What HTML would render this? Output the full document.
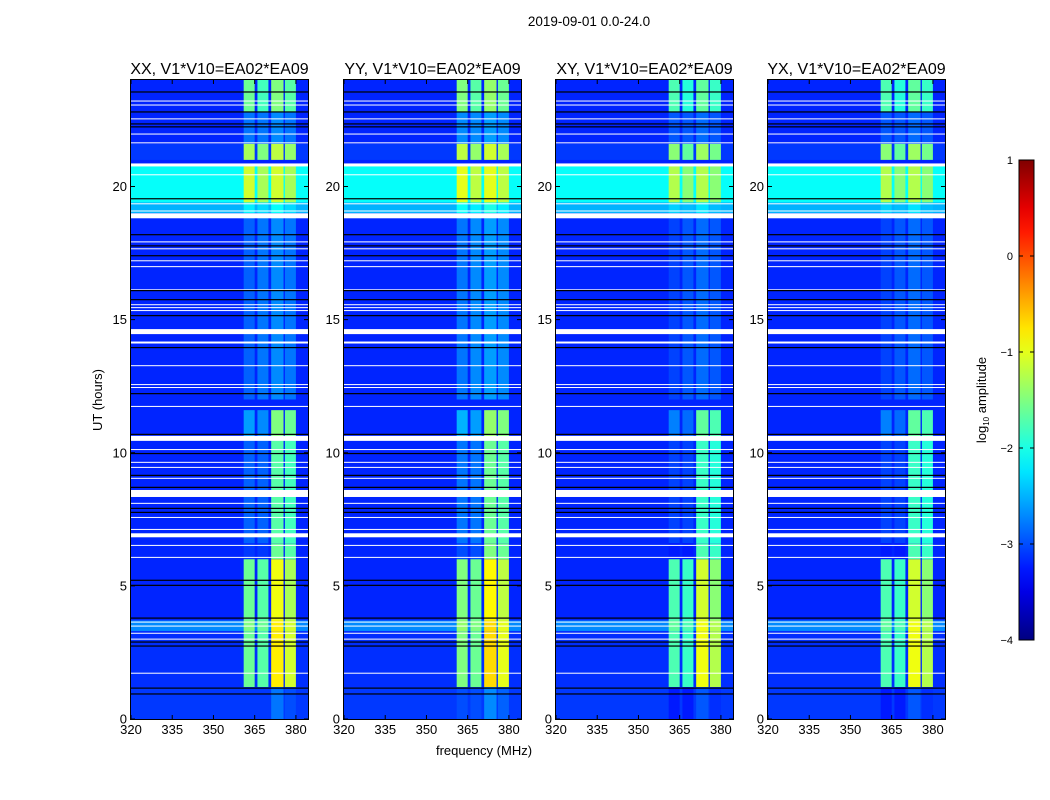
<!DOCTYPE html>
<html><head><meta charset="utf-8"><style>
body{margin:0;background:#fff;width:1050px;height:800px;overflow:hidden;font-family:"Liberation Sans","DejaVu Sans",sans-serif;}
#root{position:relative;width:1050px;height:800px;}
</style></head><body>
<div id="root">
<svg id="svg" width="1050" height="800" style="position:absolute;left:0;top:0"></svg>
</div>
<script>
// ---- data ----
const panelTitles = ["XX, V1*V10=EA02*EA09","YY, V1*V10=EA02*EA09","XY, V1*V10=EA02*EA09","YX, V1*V10=EA02*EA09"];
const panelOffset = [0, 0.1, -0.15, -0.15];
const xTicks = [320,335,350,365,380];
const yTicks = [0,5,10,15,20];
const cbTicks = [1,0,-1,-2,-3,-4];
const bandLo = [361,366,371,376];
const bandHi = [365,370,375.5,380];
// segments: start hour, end hour, background, band1..band4 levels
const segStart = [22.8,21.6,21.0,19.4,19.0,12.0,10.6,6.6,6.0,3.7,3.3,1.2,0];
const segEnd   = [24,22.8,21.6,20.8,19.4,18.9,11.6,10.5,6.6,6.0,3.7,3.3,1.2];
const segBg    = [-3.2,-3.2,-3.1,-2.1,-2.5,-3.2,-3.2,-3.2,-3.2,-3.2,-2.7,-3.15,-3.1];
const segB1    = [-1.6,-2.8,-1.3,-1.1,-2.2,-2.9,-2.6,-2.9,-3.1,-1.6,-1.5,-1.6,-3.1];
const segB2    = [-1.8,-2.8,-1.5,-1.3,-2.3,-2.8,-2.7,-2.9,-3.1,-1.7,-1.6,-1.7,-3.1];
const segB3    = [-1.5,-2.7,-1.2,-1.1,-2.1,-2.7,-1.5,-1.7,-1.6,-0.95,-0.8,-0.8,-2.8];
const segB4    = [-1.7,-2.8,-1.4,-1.3,-2.3,-2.8,-1.6,-1.8,-1.7,-1.3,-1.1,-1.1,-3.0];
const whiteRows = [23.21,23.06,22.54,21.97,21.64,20.81,20.44,19.35,19.08,18.9,17.92,17.66,17.21,16.99,16.12,15.56,15.45,15.34,14.55,14.14,13.27,12.56,12.45,11.74,10.54,10.12,9.64,9.45,9.04,8.47,8.1,7.57,7.12,6.9,6.52,6.07,3.64,3.49,3.22,3.0,1.72];
const whiteWidth = [1,1,1,1,1,3,1,1,1,5,1,1,1,1,1,1,1,1,5,2,1,1,1,1,5,1,1,1,1,7,1,1,1,4,1,1,1,1,1,1,1];
const blackRows = [23.55,22.8,22.35,22.24,19.54,18.19,17.77,17.4,16.09,15.75,15.15,13.95,12.22,10.69,9.97,9.15,8.7,7.91,7.76,5.21,5.02,3.79,2.89,2.74,1.16,0.94];

const panelLeft=[131,344,556,768], pw=177, plotTop=80, plotBottom=719;
const fMin=320, fMax=384.4, hMax=24;
const NS='http://www.w3.org/2000/svg';
const svgRoot=document.getElementById('svg');
function el(tag,attrs,parent){const e=document.createElementNS(NS,tag);for(const k in attrs)e.setAttribute(k,attrs[k]);(parent||svgRoot).appendChild(e);return e;}
function xScale(p,f){return panelLeft[p]+(f-fMin)/(fMax-fMin)*pw;}
function yScale(h){return plotBottom-(h/hMax)*(plotBottom-plotTop);}
function jet(v){let t=(v+4)/5;t=Math.max(0,Math.min(1,t));
 const r=Math.max(0,Math.min(1,Math.min(4*t-1.5,-4*t+4.5)));
 const g=Math.max(0,Math.min(1,Math.min(4*t-0.5,-4*t+3.5)));
 const b=Math.max(0,Math.min(1,Math.min(4*t+0.5,-4*t+2.5)));
 return 'rgb('+Math.round(r*255)+','+Math.round(g*255)+','+Math.round(b*255)+')';}

let tx=el('text',{x:589,y:26,'font-size':13.5,'text-anchor':'middle',fill:'#000'});
tx.textContent='2019-09-01 0.0-24.0';



for(let p=0;p<4;p++){
 const g=el('g',{});
 
 
 let bgr=el('rect',{x:xScale(p,fMin),y:plotTop,width:pw,height:plotBottom-plotTop,fill:jet(-3.2)},g);
 
 
 for(let s=0;s<segStart.length;s++){
  const y1=yScale(segEnd[s]),y2=yScale(segStart[s]);
  const r=el('rect',{x:xScale(p,fMin),y:y1,width:pw,height:y2-y1,fill:jet(segBg[s])},g);
  
  
  const bands=[segB1[s],segB2[s],segB3[s],segB4[s]];
  for(let b=0;b<4;b++){
   const c=el('rect',{x:xScale(p,bandLo[b]),y:y1,width:xScale(p,bandHi[b])-xScale(p,bandLo[b]),height:y2-y1,fill:jet(bands[b]+panelOffset[p])},g);
   
   
  }
 }
 for(let i=0;i<whiteRows.length;i++){
  const w=el('rect',{x:xScale(p,fMin),y:yScale(whiteRows[i])-whiteWidth[i]/2,width:pw,height:whiteWidth[i],fill:'#fff'},g);
  
  
 }
 for(let i=0;i<blackRows.length;i++){
  const k=el('rect',{x:xScale(p,fMin),y:yScale(blackRows[i])-0.6,width:pw,height:1.2,fill:'#000'},g);
  
  
 }
 let fr=el('rect',{x:xScale(p,fMin)-0.5,y:plotTop-0.5,width:pw+1,height:plotBottom-plotTop+1,fill:'none',stroke:'#000','stroke-width':1},g);
 
 
 let tt=el('text',{x:xScale(p,fMin)+pw/2,y:74,'font-size':16,'text-anchor':'middle',fill:'#000'},g);
 tt.textContent=panelTitles[p];
 
 
 xTicks.forEach(v=>{const x=xScale(p,v);
  el('line',{x1:x,x2:x,y1:plotBottom,y2:plotBottom-4,stroke:'#000'},g);
  el('line',{x1:x,x2:x,y1:plotTop,y2:plotTop+4,stroke:'#000'},g);
  const l=el('text',{x:x,y:plotBottom+15,'font-size':13,'text-anchor':'middle',fill:'#000'},g);
  l.textContent=v;
  
  });
 yTicks.forEach(v=>{const y=yScale(v);const x0=xScale(p,fMin);
  el('line',{x1:x0,x2:x0+4,y1:y,y2:y,stroke:'#000'},g);
  el('line',{x1:x0+pw,x2:x0+pw-4,y1:y,y2:y,stroke:'#000'},g);
  const l=el('text',{x:x0-4,y:y+4.5,'font-size':13,'text-anchor':'end',fill:'#000'},g);
  l.textContent=v;
  
  });
}
tx=el('text',{x:484,y:755,'font-size':13,'text-anchor':'middle',fill:'#000'});
tx.textContent='frequency (MHz)';


tx=el('text',{x:102,y:400,'font-size':13,'text-anchor':'middle',fill:'#000',transform:'rotate(-90 102 400)'});
tx.textContent='UT (hours)';



const cbX=1019,cbW=15,cbTop=160,cbBot=640;
function cbScale(v){return cbTop+(1-v)/5*(cbBot-cbTop);}
const defs=el('defs',{});
const lg=el('linearGradient',{id:'jetg',x1:0,y1:1,x2:0,y2:0},defs);
for(let i=0;i<=20;i++){el('stop',{offset:i/20,'stop-color':jet(-4+5*i/20)},lg);}
let cb=el('rect',{x:cbX,y:cbTop,width:cbW,height:cbBot-cbTop,fill:'url(#jetg)',stroke:'#000','stroke-width':1});


cbTicks.forEach(v=>{const y=cbScale(v);
 el('line',{x1:cbX,x2:cbX+4,y1:y,y2:y,stroke:'#000'});
 el('line',{x1:cbX+cbW,x2:cbX+cbW-4,y1:y,y2:y,stroke:'#000'});
 const l=el('text',{x:1013,y:y+4,'font-size':11,'text-anchor':'end',fill:'#000'});
 l.textContent=v<0?'\u2212'+(-v):v;
 
 });
tx=el('text',{x:986,y:400,'font-size':13,'text-anchor':'middle',fill:'#000',transform:'rotate(-90 986 400)'});
tx.innerHTML='log<tspan font-size="8" dy="3">10</tspan><tspan dy="-3"> amplitude</tspan>';


</script>
</body></html>
